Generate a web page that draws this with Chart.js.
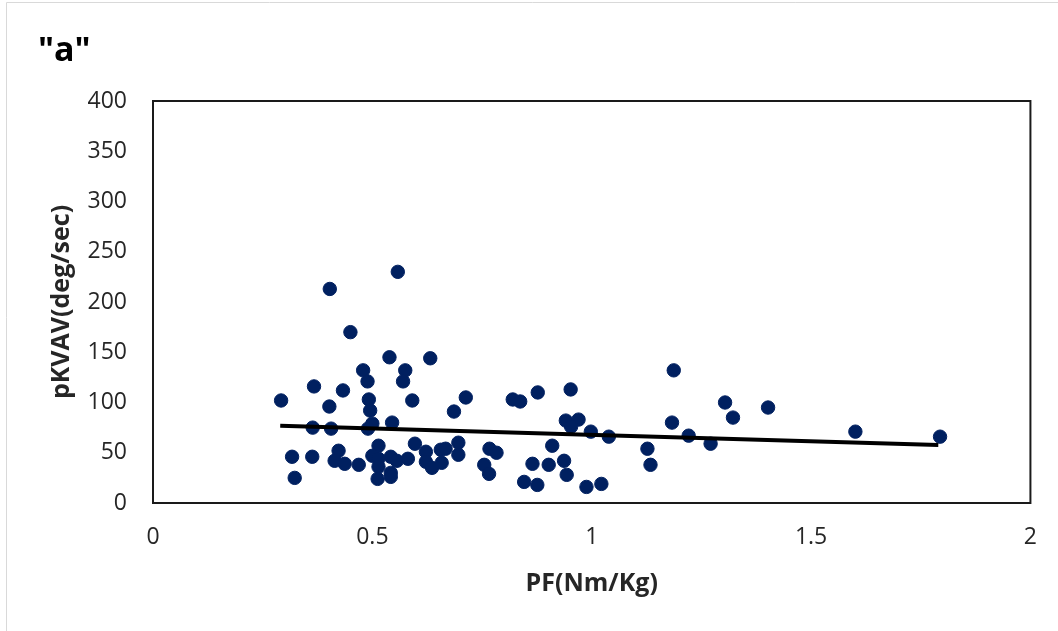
<!DOCTYPE html>
<html>
<head>
<meta charset="utf-8">
<title>pKVAV vs PF</title>
<script src="https://cdn.jsdelivr.net/npm/chart.js@4.4.1/dist/chart.umd.min.js"></script>
<style>
  html, body { margin: 0; padding: 0; background: #ffffff; }
  canvas { display: block; }
</style>
</head>
<body>
<canvas id="pfChart" width="1058" height="631"></canvas>
<script>
// values
const pfValues = [
  0.558, 0.403, 0.450, 0.539, 0.632, 0.479, 0.575, 0.489, 0.570, 0.367,
  0.433, 0.292, 0.492, 0.591, 0.402, 0.495, 0.686, 0.545, 0.364, 0.406,
  0.500, 0.490, 0.597, 0.514, 0.317, 0.363, 0.423, 0.414, 0.437, 0.469,
  0.500, 0.514, 0.542, 0.556, 0.581, 0.514, 0.542, 0.542, 0.512, 0.323,
  0.622, 0.622, 0.636, 0.656, 0.667, 0.658, 0.713, 0.820, 0.837, 0.877,
  0.952, 0.941, 0.970, 0.953, 0.998, 1.039, 0.696, 0.696, 0.767, 0.783,
  0.755, 0.766, 0.910, 0.865, 0.902, 0.937, 0.943, 0.846, 0.876, 0.988,
  1.022, 1.187, 1.304, 1.322, 1.402, 1.183, 1.221, 1.271, 1.127, 1.134,
  1.601, 1.794
];
const pkvavValues = [
  230, 213, 170, 145, 144, 132, 132, 121, 121, 116,
  112, 102, 103, 102, 96, 92, 91, 80, 75, 74,
  79, 74, 59, 57, 46, 46, 52, 42, 39, 38,
  47, 44, 46, 42, 44, 36, 30, 26, 24, 25,
  51, 41, 35, 53, 54, 40, 105, 103, 101, 110,
  113, 82, 83, 76, 71, 66, 60, 48, 54, 50,
  38, 29, 57, 39, 38, 42, 28, 21, 18, 16,
  19, 132, 100, 85, 95, 80, 67, 59, 54, 38,
  71, 66
];
// trend line end points (as drawn in the picture)
const trendPF = [0.29, 1.79];
const trendPKVAV = [76.9, 57.7];

const xTicks = [0, 0.5, 1, 1.5, 2];
const yTicks = [0, 50, 100, 150, 200, 250, 300, 350, 400];

const points = pfValues.map((x, i) => ({ x: x, y: pkvavValues[i] }));
const trend = trendPF.map((x, i) => ({ x: x, y: trendPKVAV[i] }));

// plot frame, outer border and the "a" label
const framePlugin = {
  id: "frame",
  afterDraw(chart) {
    const c = chart.ctx;
    const a = chart.chartArea;
    c.save();
    c.strokeStyle = "#d9d9d9";
    c.lineWidth = 1;
    c.beginPath();
    c.moveTo(6.5, 640);
    c.lineTo(6.5, 2.5);
    c.lineTo(1070, 2.5);
    c.stroke();

    c.strokeStyle = "#1a1a1a";
    c.lineWidth = 2;
    c.strokeRect(a.left, a.top, a.right - a.left, a.bottom - a.top);

    c.fillStyle = "#000000";
    c.font = "bold 34px 'Open Sans', sans-serif";
    c.textBaseline = "alphabetic";
    c.textAlign = "left";
    c.fillText('"a"', 38, 61);
    c.restore();
  }
};

const ctx = document.getElementById("pfChart").getContext("2d");
new Chart(ctx, {
  type: "scatter",
  data: {
    datasets: [
      {
        label: "pKVAV",
        data: points,
        backgroundColor: "#002060",
        borderColor: "#002060",
        pointRadius: 6.7,
        pointHoverRadius: 6.7,
        order: 2
      },
      {
        label: "Linear",
        data: trend,
        showLine: true,
        borderColor: "#000000",
        borderWidth: 4,
        pointRadius: 0,
        fill: false,
        order: 1
      }
    ]
  },
  plugins: [framePlugin],
  options: {
    responsive: false,
    animation: false,
    layout: { padding: { top: 101, right: 25, left: 0, bottom: 0 } },
    plugins: {
      legend: { display: false },
      tooltip: { enabled: false },
      title: { display: false }
    },
    scales: {
      x: {
        type: "linear",
        min: 0,
        max: 2,
        afterBuildTicks: (s) => { s.ticks = xTicks.map(v => ({ value: v })); },
        afterFit: (s) => { s.height = 128; },
        grid: { display: false, drawTicks: false },
        border: { display: false },
        ticks: {
          padding: 21,
          color: "#262626",
          font: { family: "'Open Sans', sans-serif", size: 23 },
          callback: (v) => String(v)
        },
        title: {
          display: true,
          text: "PF(Nm/Kg)",
          color: "#262626",
          font: { family: "'Open Sans', sans-serif", size: 25, weight: "bold" },
          padding: { top: 0, bottom: 32 }
        }
      },
      y: {
        type: "linear",
        min: 0,
        max: 400,
        afterBuildTicks: (s) => { s.ticks = yTicks.map(v => ({ value: v })); },
        afterFit: (s) => { s.width = 153; },
        grid: { display: false, drawTicks: false },
        border: { display: false },
        ticks: {
          padding: 26,
          color: "#262626",
          font: { family: "'Open Sans', sans-serif", size: 23 },
          callback: (v) => String(v)
        },
        title: {
          display: true,
          text: "pKVAV(deg/sec)",
          color: "#262626",
          font: { family: "'Open Sans', sans-serif", size: 25, weight: "bold" },
          padding: { top: 47, bottom: 0 }
        }
      }
    }
  }
});
</script>
</body>
</html>
